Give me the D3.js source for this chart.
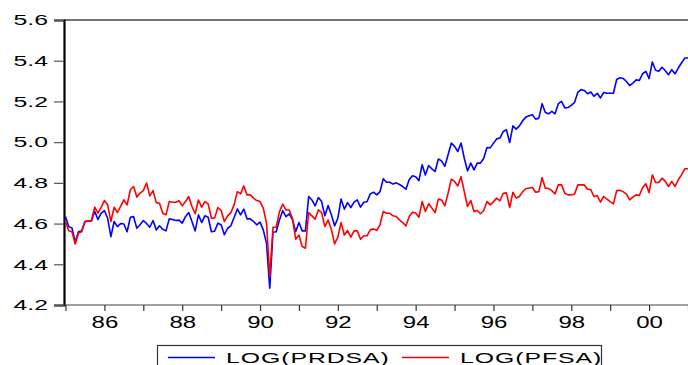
<!DOCTYPE html>
<html>
<head>
<meta charset="utf-8">
<script src="https://cdn.jsdelivr.net/npm/d3@7"></script>
<style>
  html, body { margin: 0; padding: 0; background: #fff; }
  svg { display: block; font-family: "Liberation Sans", Arial, sans-serif; }
</style>
</head>
<body>
<div id="chart"></div>
<script>
// monthly observations, 1985M01 onwards
const startYear = 1985;
const prdsa = [
  4.635, 4.585, 4.578, 4.51, 4.56, 4.565, 4.61, 4.612, 4.613, 4.66, 4.62, 4.65,
  4.664, 4.626, 4.536, 4.61, 4.585, 4.60, 4.598, 4.56, 4.631, 4.634, 4.577, 4.594,
  4.615, 4.60, 4.582, 4.615, 4.569, 4.589, 4.572, 4.564, 4.623, 4.62, 4.615, 4.617,
  4.602, 4.634, 4.654, 4.61, 4.564, 4.643, 4.605, 4.638, 4.631, 4.56, 4.562, 4.602,
  4.594, 4.545, 4.577, 4.589, 4.63, 4.672, 4.643, 4.671, 4.623, 4.623, 4.61, 4.594,
  4.607, 4.569, 4.503, 4.282, 4.557, 4.56, 4.618, 4.664, 4.634, 4.648, 4.62, 4.56,
  4.605, 4.564, 4.564, 4.733, 4.716, 4.687, 4.728, 4.708, 4.638, 4.689, 4.643, 4.589,
  4.626, 4.721, 4.671, 4.703, 4.679, 4.705, 4.716, 4.681, 4.705, 4.707, 4.746, 4.754,
  4.741, 4.757, 4.82, 4.803, 4.803, 4.794, 4.80, 4.792, 4.782, 4.769, 4.815, 4.835,
  4.83, 4.811, 4.889, 4.839, 4.885, 4.869, 4.856, 4.917, 4.908, 4.881, 4.938, 4.995,
  4.979, 4.954, 4.995, 4.921, 4.859, 4.897, 4.864, 4.897, 4.897, 4.921, 4.974, 4.972,
  4.995, 5.016, 5.02, 5.052, 5.061, 4.998, 5.08, 5.064, 5.08, 5.105, 5.123, 5.13,
  5.135, 5.113, 5.118, 5.189, 5.146, 5.139, 5.151, 5.139, 5.189, 5.2, 5.168, 5.17,
  5.181, 5.195, 5.244, 5.258, 5.254, 5.238, 5.246, 5.225, 5.24, 5.217, 5.244, 5.24,
  5.24, 5.24, 5.308, 5.316, 5.313, 5.298, 5.278, 5.29, 5.306, 5.303, 5.336, 5.348,
  5.312, 5.394, 5.353, 5.348, 5.368, 5.351, 5.331, 5.356, 5.336, 5.364, 5.389, 5.413,
  5.413
];
const pfsa = [
  4.61, 4.565, 4.56, 4.50, 4.553, 4.56, 4.61, 4.612, 4.615, 4.681, 4.651, 4.68,
  4.713, 4.692, 4.61, 4.68, 4.654, 4.684, 4.716, 4.692, 4.766, 4.782, 4.73, 4.75,
  4.762, 4.799, 4.736, 4.762, 4.703, 4.70, 4.651, 4.643, 4.708, 4.705, 4.705, 4.712,
  4.687, 4.708, 4.733, 4.684, 4.648, 4.716, 4.681, 4.708, 4.697, 4.626, 4.628, 4.679,
  4.664, 4.61, 4.638, 4.654, 4.692, 4.757, 4.746, 4.785, 4.741, 4.741, 4.725, 4.713,
  4.708, 4.676, 4.602, 4.339, 4.582, 4.582, 4.659, 4.696, 4.667, 4.667, 4.625, 4.523,
  4.544, 4.487, 4.479, 4.654, 4.638, 4.622, 4.667, 4.654, 4.585, 4.618, 4.572, 4.50,
  4.533, 4.605, 4.544, 4.566, 4.533, 4.564, 4.564, 4.523, 4.54, 4.54, 4.569, 4.574,
  4.566, 4.594, 4.659, 4.651, 4.651, 4.638, 4.635, 4.618, 4.605, 4.589, 4.634, 4.656,
  4.652, 4.631, 4.708, 4.659, 4.697, 4.676, 4.654, 4.72, 4.716, 4.687, 4.749, 4.818,
  4.807, 4.785, 4.831, 4.757, 4.684, 4.713, 4.659, 4.664, 4.648, 4.664, 4.708, 4.692,
  4.708, 4.725, 4.712, 4.749, 4.751, 4.679, 4.754, 4.725, 4.733, 4.757, 4.771, 4.775,
  4.777, 4.754, 4.757, 4.826, 4.774, 4.772, 4.762, 4.746, 4.79, 4.79, 4.749, 4.741,
  4.742, 4.744, 4.79, 4.79, 4.79, 4.769, 4.767, 4.733, 4.738, 4.705, 4.733, 4.72,
  4.708, 4.697, 4.762, 4.764, 4.757, 4.745, 4.716, 4.73, 4.741, 4.738, 4.777, 4.795,
  4.752, 4.839, 4.802, 4.802, 4.823, 4.807, 4.782, 4.807, 4.782, 4.815, 4.839, 4.869,
  4.869
];
const seriesNames = ["LOG(PRDSA)", "LOG(PFSA)"];
const seriesColors = ["#0000ff", "#ff0000"];
const yTicks = [4.2, 4.4, 4.6, 4.8, 5.0, 5.2, 5.4, 5.6];
const xTicks = d3.range(1985, 2002);

const W = 688, H = 365;
const plotLeft = 64, plotTop = 20, plotBottom = 305, xStart = 65.5, xEnd = 688;

const svg = d3.select("#chart").append("svg")
  .attr("width", W)
  .attr("height", H);

const x = d3.scaleLinear().domain([1985, 2001]).range([xStart, xEnd]);
const y = d3.scaleLinear().domain([4.2, 5.6]).range([plotBottom, plotTop]);

const series = [prdsa, pfsa].map((vals, k) => ({
  name: seriesNames[k],
  color: seriesColors[k],
  values: vals.map((v, i) => ({ t: startYear + i / 12, v }))
}));

// top frame line
svg.append("line")
  .attr("x1", plotLeft).attr("x2", W + 10)
  .attr("y1", plotTop).attr("y2", plotTop)
  .attr("stroke", "#444").attr("stroke-width", 1.5);

// y axis
const yAxis = svg.append("g")
  .attr("transform", `translate(${plotLeft},0)`)
  .call(d3.axisLeft(y).tickValues(yTicks).tickSize(10).tickPadding(6)
    .tickFormat(d3.format(".1f")));
yAxis.select(".domain").attr("stroke", "#000").attr("stroke-width", 2.2);
yAxis.selectAll(".tick line").attr("stroke", "#555").attr("stroke-width", 1.2);
yAxis.selectAll(".tick text")
  .attr("x", null)
  .attr("transform", "translate(-16,0) scale(1.65,1)")
  .attr("fill", "#000")
  .style("font-size", "15px");

// x axis
const xAxis = svg.append("g")
  .attr("transform", `translate(0,${plotBottom})`)
  .call(d3.axisBottom(x).tickValues(xTicks).tickSize(6).tickPadding(6)
    .tickFormat(d => (d % 2 === 0 ? String(d).slice(2) : "")));
xAxis.select(".domain")
  .attr("d", `M${plotLeft},0H${W + 10}`)
  .attr("stroke", "#444").attr("stroke-width", 1);
xAxis.selectAll(".tick line").attr("stroke", "#333").attr("stroke-width", 1.2);
xAxis.selectAll(".tick text")
  .attr("transform", "scale(1.5,1)")
  .attr("fill", "#000")
  .style("font-size", "16px");

// lines
const lineGen = d3.line().x(d => x(d.t)).y(d => y(d.v));
svg.append("g")
  .selectAll("path")
  .data(series)
  .join("path")
  .attr("d", d => lineGen(d.values))
  .attr("fill", "none")
  .attr("stroke", d => d.color)
  .attr("stroke-width", 1.6)
  .attr("stroke-linejoin", "round");

// legend
const legend = svg.append("g");
legend.append("rect")
  .attr("x", 157.5).attr("y", 345.5)
  .attr("width", 444).attr("height", 30)
  .attr("fill", "#fff").attr("stroke", "#333").attr("stroke-width", 1.2);

const legendX = [168, 402];
const item = legend.selectAll("g.item")
  .data(series)
  .join("g")
  .attr("class", "item")
  .attr("transform", (d, i) => `translate(${legendX[i]},0)`);
item.append("line")
  .attr("x1", 0).attr("x2", 47)
  .attr("y1", 357.5).attr("y2", 357.5)
  .attr("stroke", d => d.color).attr("stroke-width", 1.3);
item.append("text")
  .attr("transform", "translate(58,363) scale(1.6,1)")
  .style("font-size", "15.5px")
  .style("letter-spacing", "0.6px")
  .attr("fill", "#000")
  .text(d => d.name);
</script>
</body>
</html>
